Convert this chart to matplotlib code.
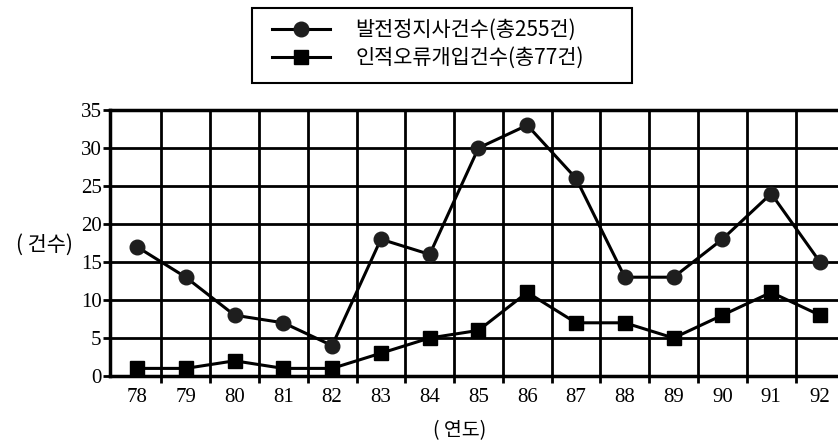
import matplotlib

matplotlib.use("Agg")
import matplotlib.pyplot as plt
from matplotlib.patches import Rectangle
from matplotlib.ticker import FixedLocator

# Dados (somas batem com os totais da legenda: 255 e 77)
YEARS = ["78", "79", "80", "81", "82", "83", "84", "85", "86", "87", "88", "89", "90", "91", "92"]
TRIPS = [17, 13, 8, 7, 4, 18, 16, 30, 33, 26, 13, 13, 18, 24, 15]
HUMAN_ERRORS = [1, 1, 2, 1, 1, 3, 5, 6, 11, 7, 7, 5, 8, 11, 8]
LABEL_TRIPS = "발전정지사건수(총255건)"
LABEL_ERRORS = "인적오류개입건수(총77건)"
Y_TICKS = [0, 5, 10, 15, 20, 25, 30, 35]

COLOR_LINE = "#000000"
COLOR_CIRCLE = "#1e1e1e"
FONT_NUM = ["Liberation Serif", "Noto Sans CJK KR"]
FONT_KR = ["Noto Sans CJK KR", "DejaVu Sans"]

W, H = 838, 443
fig = plt.figure(figsize=(W / 100, H / 100), dpi=100)
ax = fig.add_axes([110 / W, 67 / H, 1 - 110 / W, 266 / H])

x = list(range(len(YEARS)))
ax.plot(x, TRIPS, color=COLOR_LINE, linewidth=2.2, marker="o", markersize=10.5,
        markerfacecolor=COLOR_CIRCLE, markeredgecolor=COLOR_CIRCLE, label=LABEL_TRIPS, zorder=3)
ax.plot(x, HUMAN_ERRORS, color=COLOR_LINE, linewidth=2.2, marker="s", markersize=10.5,
        markerfacecolor=COLOR_LINE, markeredgecolor=COLOR_LINE, label=LABEL_ERRORS, zorder=3)

ax.set_xlim(-0.553, 14.37)
ax.set_ylim(0, 35)

# linhas verticais nas fronteiras entre categorias, rotulos no centro
ax.set_xticks(x)
ax.set_xticklabels(YEARS, family=FONT_NUM, fontsize=15)
ax.xaxis.set_minor_locator(FixedLocator([i + 0.5 for i in x]))
ax.tick_params(axis="x", which="major", length=0, pad=9)
ax.tick_params(axis="x", which="minor", length=5, width=2, direction="out")
ax.grid(True, which="minor", axis="x", color=COLOR_LINE, linewidth=2)

ax.set_yticks(Y_TICKS)
ax.set_yticklabels([str(v) for v in Y_TICKS], family=FONT_NUM, fontsize=15)
ax.tick_params(axis="y", length=5, width=2, direction="out", pad=1)
ax.grid(True, which="major", axis="y", color=COLOR_LINE, linewidth=2)
ax.set_axisbelow(True)

for side in ["left", "bottom", "top"]:
    ax.spines[side].set_linewidth(2.5)
ax.spines["right"].set_visible(False)

fig.text(44 / W, 1 - 245 / H, "( 건수)", family=FONT_KR, fontsize=15, ha="center", va="center")
fig.text(460 / W, 1 - 431 / H, "( 연도)", family=FONT_KR, fontsize=14, ha="center", va="center")

# legenda sem moldura + moldura desenhada a parte (caixa mais larga que o texto)
fig.legend(loc="upper left", bbox_to_anchor=(272 / W, 1 - 19 / H), frameon=False,
           handlelength=2.8, handletextpad=1.2, borderpad=0, labelspacing=0.3,
           borderaxespad=0, prop={"family": FONT_KR, "size": 15})
fig.patches.append(Rectangle((252 / W, 1 - 83 / H), 380 / W, 75 / H, transform=fig.transFigure,
                             fill=False, edgecolor=COLOR_LINE, linewidth=1.5))

fig.savefig("out.png", dpi=100)
